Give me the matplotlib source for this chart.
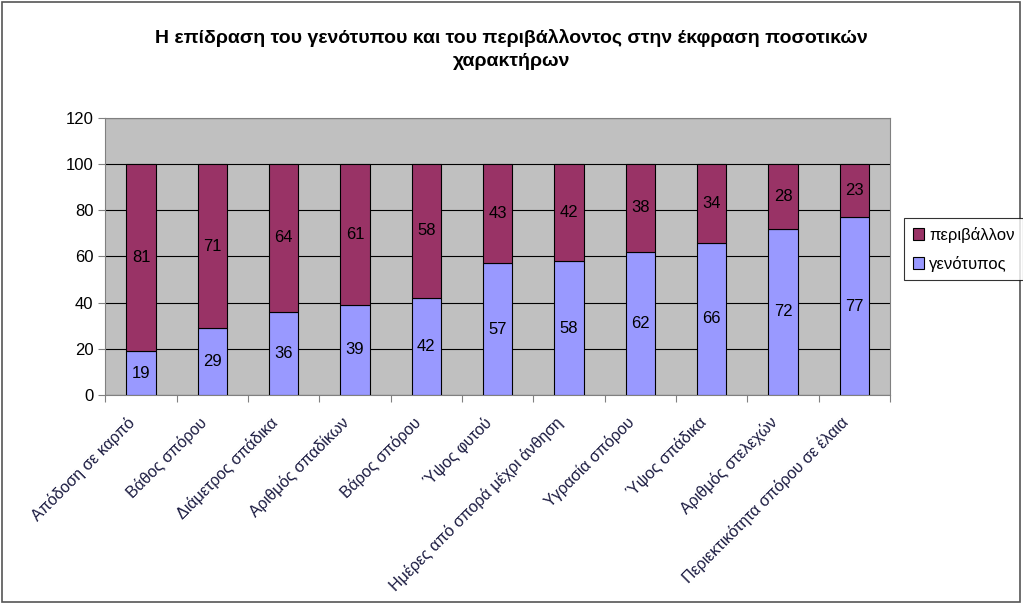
import matplotlib
matplotlib.use('Agg')
import matplotlib.pyplot as plt
import matplotlib.transforms as mtransforms
import numpy as np
from matplotlib.patches import Rectangle

plt.rcParams['font.family'] = ['Liberation Sans', 'DejaVu Sans']

categories = [
    'Απόδοση σε καρπό',
    'Βάθος σπόρου',
    'Διάμετρος σπάδικα',
    'Αριθμός σπαδίκων',
    'Βάρος σπόρου',
    'Ύψος φυτού',
    'Ημέρες από σπορά μέχρι άνθηση',
    'Υγρασία σπόρου',
    'Ύψος σπάδικα',
    'Αριθμός στελεχών',
    'Περιεκτικότητα σπόρου σε έλαια',
]
genotype = [19, 29, 36, 39, 42, 57, 58, 62, 66, 72, 77]
environment = [81, 71, 64, 61, 58, 43, 42, 38, 34, 28, 23]
yticks = [0, 20, 40, 60, 80, 100, 120]

c_env = '#993366'
c_gen = '#9999FF'

fig = plt.figure(figsize=(10.23, 6.04), dpi=100)
fig.patches.append(Rectangle((0.002, 0.003), 0.995, 0.994, transform=fig.transFigure,
                             fill=False, ec='#555555', lw=1.2))
ax = fig.add_axes([0.103, 0.346, 0.767, 0.459])
ax.set_facecolor('#C0C0C0')

x = np.arange(len(categories))
w = 0.41
b1 = ax.bar(x, genotype, w, color=c_gen, ec='black', lw=0.8, label='γενότυπος', zorder=3)
b2 = ax.bar(x, environment, w, bottom=genotype, color=c_env, ec='black', lw=0.8,
            label='περιβάλλον', zorder=3)

for xi, g, e in zip(x, genotype, environment):
    ax.text(xi, g / 2, str(g), ha='center', va='center', fontsize=12, zorder=4)
    ax.text(xi, g + e / 2, str(e), ha='center', va='center', fontsize=12, zorder=4)

ax.set_xlim(-0.5, len(categories) - 0.5)
ax.set_ylim(0, 120)
ax.set_yticks(yticks)
ax.yaxis.grid(True, color='black', lw=0.8, zorder=0)
ax.set_axisbelow(True)
ax.tick_params(axis='y', labelsize=12, length=5, color='#808080')
for s in ['top', 'right', 'left', 'bottom']:
    ax.spines[s].set_color('#808080')

ax.set_xticks(np.arange(len(categories) + 1) - 0.5, minor=False)
ax.set_xticklabels([])
ax.tick_params(axis='x', length=5, color='#808080')
ax.set_xticks(x, minor=True)
ax.set_xticklabels(categories, minor=True, rotation=45, ha='right', rotation_mode='anchor',
                   fontsize=11.5, color='#1a1a40')
ax.tick_params(axis='x', which='minor', length=0, pad=14)
shift = mtransforms.ScaledTranslation(-10 / 72, 0, fig.dpi_scale_trans)
for lab in ax.xaxis.get_minorticklabels():
    lab.set_transform(lab.get_transform() + shift)

fig.text(0.50, 0.918, 'Η επίδραση του γενότυπου και του περιβάλλοντος στην έκφραση ποσοτικών\nχαρακτήρων',
         ha='center', va='center', fontsize=14, fontweight='bold', linespacing=1.45)

leg = fig.legend(handles=[b2, b1], loc='center left', bbox_to_anchor=(0.884, 0.587),
                 frameon=True, fancybox=False, edgecolor='black', fontsize=12,
                 handlelength=0.7, handleheight=0.7, handletextpad=0.3, borderpad=0.5,
                 borderaxespad=0, labelspacing=0.8)
leg.get_frame().set_linewidth(0.8)

fig.savefig('out.png', dpi=100)
